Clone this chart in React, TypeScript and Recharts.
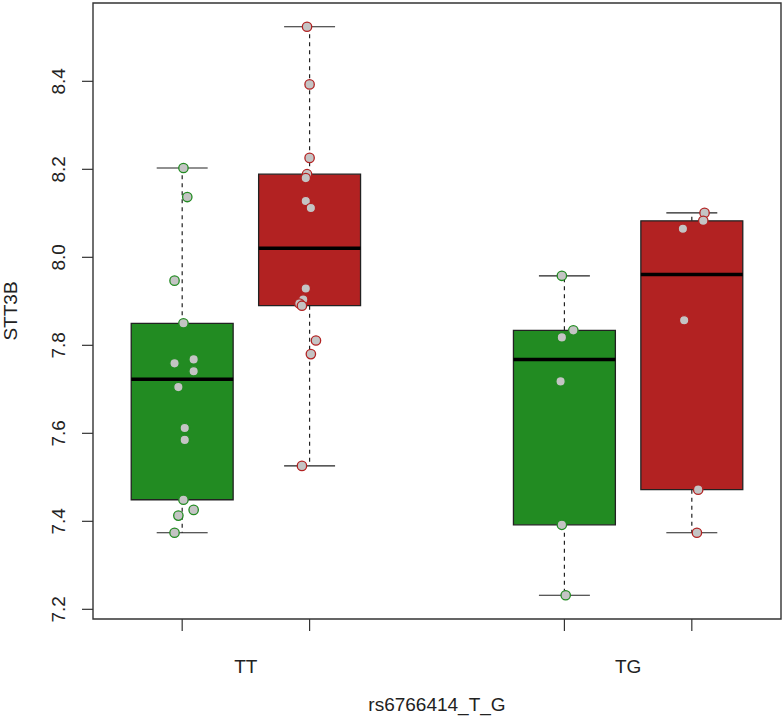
import React from 'react'
import {
  ScatterChart,
  Scatter,
  XAxis,
  YAxis,
  ReferenceArea,
  ReferenceLine,
} from 'recharts'

const genotypes = ['TT', 'TG']
const genotypeTicks = [1.5, 4.5]
const boxTicks = [1, 2, 4, 5]
const yTicks = [7.2, 7.4, 7.6, 7.8, 8.0, 8.2, 8.4]

// STT3B expression per sample
const ttGreen = [8.203, 8.137, 7.947, 7.85, 7.768, 7.759, 7.741, 7.705, 7.612, 7.585, 7.449, 7.426, 7.413, 7.374]
const ttGreenJitter = [0.01, 0.04, -0.06, 0.01, 0.09, -0.06, 0.09, -0.03, 0.02, 0.02, 0.01, 0.09, -0.03, -0.06]
const ttRed = [8.524, 8.393, 8.226, 8.189, 8.18, 8.128, 8.112, 7.929, 7.904, 7.895, 7.89, 7.811, 7.78, 7.526]
const ttRedJitter = [-0.02, 0, 0, -0.02, -0.03, -0.03, 0.01, -0.03, -0.05, -0.08, -0.06, 0.05, 0.01, -0.06]
const tgGreen = [7.958, 7.834, 7.818, 7.718, 7.392, 7.232]
const tgGreenJitter = [-0.02, 0.07, -0.02, -0.03, -0.02, 0.01]
const tgRed = [8.101, 8.083, 8.065, 7.857, 7.472, 7.374]
const tgRedJitter = [0.1, 0.09, -0.07, -0.06, 0.05, 0.04]

const GREEN = '#228B22'
const RED = '#B22222'
const FONT = '"Liberation Sans", Arial, Helvetica, sans-serif'
const FS = 19

const groups = [
  { pos: 1, values: ttGreen, jitter: ttGreenJitter, color: GREEN },
  { pos: 2, values: ttRed, jitter: ttRedJitter, color: RED },
  { pos: 4, values: tgGreen, jitter: tgGreenJitter, color: GREEN },
  { pos: 5, values: tgRed, jitter: tgRedJitter, color: RED },
]

// Tukey hinges like R's fivenum + 1.5 IQR whiskers
function boxStats(values: number[]) {
  const s = [...values].sort((a, b) => a - b)
  const n = s.length
  const n4 = Math.floor((n + 3) / 2) / 2
  const at = (i: number) => 0.5 * (s[Math.floor(i) - 1] + s[Math.ceil(i) - 1])
  const q1 = at(n4)
  const med = at((n + 1) / 2)
  const q3 = at(n + 1 - n4)
  const iqr = q3 - q1
  const lo = Math.min(...s.filter((v) => v >= q1 - 1.5 * iqr))
  const hi = Math.max(...s.filter((v) => v <= q3 + 1.5 * iqr))
  return { q1, med, q3, lo, hi }
}

const pointsFor = (color: string) =>
  groups
    .filter((g) => g.color === color)
    .flatMap((g) => g.values.map((v, i) => ({ x: g.pos + g.jitter[i], y: v })))

const greenPoints = pointsFor(GREEN)
const redPoints = pointsFor(RED)

const YTick = (props: any) => {
  const { x, y, payload } = props
  const tx = x - 15
  return (
    <text
      x={tx}
      y={y}
      transform={`rotate(-90 ${tx} ${y})`}
      textAnchor="middle"
      fontSize={FS}
      fill="#222"
    >
      {Number(payload.value).toFixed(1)}
    </text>
  )
}

const XTick = (props: any) => {
  const { x, y, payload } = props
  const v = payload.value
  const idx = genotypeTicks.indexOf(v)
  if (idx < 0) {
    return <line x1={x} x2={x} y1={y} y2={y + 12} stroke="#333" strokeWidth={1.2} />
  }
  return (
    <text x={x} y={y + 54} textAnchor="middle" fontSize={FS} fill="#222">
      {genotypes[idx]}
    </text>
  )
}

const dot = (color: string) => (props: any) => (
  <circle cx={props.cx} cy={props.cy} r={4.7} fill="#c4c4c4" stroke={color} strokeWidth={1.3} />
)

const App = () => {
  return (
    <div style={{ position: 'absolute', left: 0, top: 0, fontFamily: FONT, background: '#fff' }}>
      <ScatterChart width={784} height={716} margin={{ top: 3, right: 3, bottom: 0, left: 0 }}>
        <XAxis
          type="number"
          dataKey="x"
          domain={[0.3, 5.7]}
          allowDataOverflow
          ticks={[...boxTicks, ...genotypeTicks].sort((a, b) => a - b)}
          interval={0}
          height={97}
          axisLine={false}
          tickLine={false}
          tickSize={0}
          tickMargin={0}
          tick={<XTick />}
          label={{
            content: (p: any) => {
              const vb = p.viewBox
              return (
                <text x={vb.x + vb.width / 2} y={711} textAnchor="middle" fontSize={FS} fill="#222">
                  rs6766414_T_G
                </text>
              )
            },
          }}
        />
        <YAxis
          type="number"
          dataKey="y"
          domain={[7.178, 8.578]}
          allowDataOverflow
          ticks={yTicks}
          interval={0}
          width={93}
          axisLine={false}
          tickLine={{ stroke: '#333', strokeWidth: 1.2 }}
          tickSize={11}
          tickMargin={2}
          tick={<YTick />}
          label={{
            content: (p: any) => {
              const vb = p.viewBox
              const cy = vb.y + vb.height / 2
              return (
                <text
                  x={17}
                  y={cy}
                  transform={`rotate(-90 17 ${cy})`}
                  textAnchor="middle"
                  fontSize={FS}
                  fill="#222"
                >
                  STT3B
                </text>
              )
            },
          }}
        />

        {groups.flatMap((g) => {
          const st = boxStats(g.values)
          return [
            <ReferenceLine
              key={`wu${g.pos}`}
              segment={[{ x: g.pos, y: st.q3 }, { x: g.pos, y: st.hi }]}
              stroke="#222"
              strokeWidth={1.2}
              strokeDasharray="4 4"
            />,
            <ReferenceLine
              key={`wl${g.pos}`}
              segment={[{ x: g.pos, y: st.q1 }, { x: g.pos, y: st.lo }]}
              stroke="#222"
              strokeWidth={1.2}
              strokeDasharray="4 4"
            />,
            <ReferenceLine
              key={`cu${g.pos}`}
              segment={[{ x: g.pos - 0.2, y: st.hi }, { x: g.pos + 0.2, y: st.hi }]}
              stroke="#222"
              strokeWidth={1.2}
            />,
            <ReferenceLine
              key={`cl${g.pos}`}
              segment={[{ x: g.pos - 0.2, y: st.lo }, { x: g.pos + 0.2, y: st.lo }]}
              stroke="#222"
              strokeWidth={1.2}
            />,
            <ReferenceArea
              key={`b${g.pos}`}
              x1={g.pos - 0.4}
              x2={g.pos + 0.4}
              y1={st.q1}
              y2={st.q3}
              fill={g.color}
              fillOpacity={1}
              stroke="#222"
              strokeWidth={1.3}
            />,
            <ReferenceLine
              key={`m${g.pos}`}
              segment={[{ x: g.pos - 0.4, y: st.med }, { x: g.pos + 0.4, y: st.med }]}
              stroke="#000"
              strokeWidth={3.5}
            />,
          ]
        })}

        <ReferenceArea
          x1={0.3}
          x2={5.7}
          y1={7.178}
          y2={8.578}
          fill="none"
          stroke="#333"
          strokeWidth={1.4}
        />

        <Scatter data={greenPoints} shape={dot(GREEN)} isAnimationActive={false} />
        <Scatter data={redPoints} shape={dot(RED)} isAnimationActive={false} />
      </ScatterChart>
    </div>
  )
}

export default App
